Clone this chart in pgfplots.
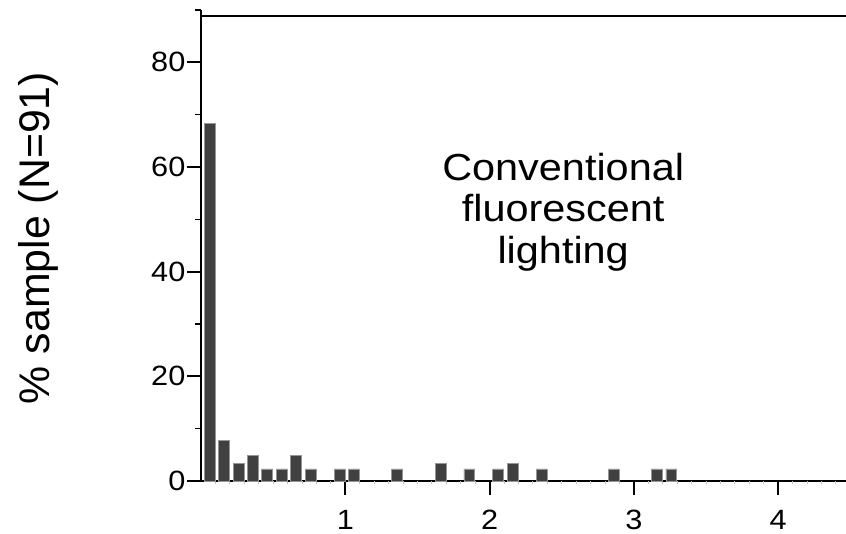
\documentclass[border=0pt]{standalone}
\usepackage{fontspec}
\setmainfont{Liberation Sans}[FakeStretch=1.1]
\newfontfamily\ylfont{Liberation Sans}
\usepackage{pgfplots}
\pgfplotsset{compat=1.18}
\definecolor{barfill}{RGB}{64,64,64}
\definecolor{baredge}{RGB}{150,150,150}
\begin{document}
\begin{tikzpicture}
\begin{axis}[
  scale only axis,
  width=322.5bp, height=235.5bp,
  xmin=0, xmax=4.47, ymin=0, ymax=90,
  axis lines*=left,
  axis line style={line width=1bp},
  tick align=outside,
  xtick={1,2,3,4},
  extra x ticks={0.1,0.2,0.3,0.4,0.5,0.6,0.7,0.8,0.9,1.1,1.2,1.3,1.4,1.5,1.6,1.7,1.8,1.9,2.1,2.2,2.3,2.4,2.5,2.6,2.7,2.8,2.9,3.1,3.2,3.3,3.4,3.5,3.6,3.7,3.8,3.9,4.1,4.2,4.3,4.4},
  extra x tick style={major tick length=1.5bp, every major tick/.append style={line width=0.5bp, gray!50}, xticklabels={}},
  ytick={0,20,40,60,80},
  minor ytick={10,30,50,70,90},
  major tick length=7bp,
  minor tick length=3bp,
  every major tick/.style={line width=1bp, black},
  every minor tick/.style={line width=0.6bp, black},
  /pgf/number format/assume math mode=true,
  ticklabel style={font=\fontsize{14}{16}\selectfont},
  yticklabel style={xshift=2.7bp},
  xticklabel style={yshift=-4bp},
  ylabel={\ylfont\fontsize{21.5}{24}\selectfont \% sample (N=91)},
  ylabel style={at={(rel axis cs:-0.2527,0.516)}, anchor=center},
  clip=false,
]
\addplot[ybar, bar width=0.076, fill=barfill, draw=baredge, line width=0.4bp]
coordinates {
 (0.06,68.3) (0.16,7.8) (0.26,3.4) (0.36,4.8) (0.46,2.3) (0.56,2.3)
 (0.66,4.8) (0.76,2.3) (0.96,2.3) (1.06,2.3) (1.36,2.3) (1.66,3.4)
 (1.86,2.3) (2.06,2.3) (2.16,3.4) (2.36,2.3) (2.86,2.3) (3.16,2.3) (3.26,2.3)
};
\draw[line width=1bp] (axis cs:0,88.8) -- (axis cs:4.47,88.8);
\node[align=center, font=\fontsize{18.9}{20.75}\selectfont] at (axis cs:2.51,51.4)
  {Conventional\\fluorescent\\lighting};
\end{axis}
\pgfresetboundingbox
\path (-100.5bp,-26.5bp) rectangle (322.5bp,240.5bp);
\end{tikzpicture}
\end{document}
